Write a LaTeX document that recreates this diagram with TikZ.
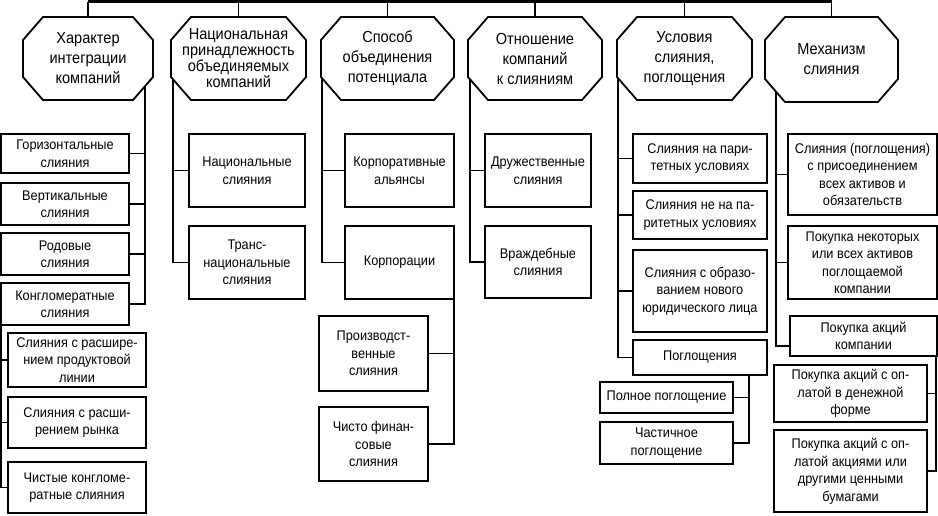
\documentclass[tikz,border=0pt]{standalone}
\usepackage{fontspec}
\setmainfont{Liberation Sans}[FakeStretch=0.91]
\usetikzlibrary{backgrounds}
\tikzset{
  box/.style={draw, line width=1.8pt, fill=white, align=center, inner sep=0pt, font=\fontsize{14}{17.5}\selectfont},
  octt/.style={align=center, inner sep=0pt, font=\fontsize{16}{20}\selectfont},
  octline/.style={draw, line width=1.8pt, fill=white, line join=miter},
  conn/.style={line width=1.5pt},
  bar/.style={line width=3pt},
}
\newcommand\bx[6]{\node[box, minimum width={(#4-#2)*1pt}, minimum height={(#5-#3)*1pt}] (#1) at ({(#2+#4)/2},{(#3+#5)/2}) {#6};}
\newcommand\oct[7][]{%
  \draw[octline] ({#3+20},#4) -- ({#5-20},#4) -- (#5,{#4+23}) -- (#5,{#6-23}) -- ({#5-20},#6) -- ({#3+20},#6) -- (#3,{#6-23}) -- (#3,{#4+23}) -- cycle;
  \node[octt, minimum width={(#5-#3)*1pt}, minimum height={(#6-#4)*1pt}, #1] (#2) at ({(#3+#5)/2},{(#4+#6)/2}) {#7};}
\begin{document}
\begin{tikzpicture}[x=1pt, y=-1pt]
\useasboundingbox (0,0) rectangle (938,515);
% headers
\oct{o1}{23}{17}{153}{100}{Характер\\интеграции\\компаний}
\oct[font=\fontsize{16}{16}\selectfont]{o2}{171}{17}{306}{100}{Национальная\\принадлежность\\объединяемых\\компаний}
\oct{o3}{321}{17}{454}{100}{Способ\\объединения\\потенциала}
\oct{o4}{468}{17}{602}{100}{Отношение\\компаний\\к слияниям}
\oct{o5}{617}{17}{752}{100}{Условия\\слияния,\\поглощения}
\oct{o6}{765}{17}{898}{102}{Механизм\\слияния}
% column 1
\bx{c1a}{1}{134}{129}{173}{Горизонтальные\\слияния}
\bx{c1b}{1}{183}{129}{225}{Вертикальные\\слияния}
\bx{c1c}{1}{233}{129}{275}{Родовые\\слияния}
\bx{c1d}{1}{283}{129}{325}{Конгломератные\\слияния}
\bx{c1e}{8}{333}{146}{387}{Слияния с расшире-\\нием продуктовой\\линии}
\bx{c1f}{8}{397}{146}{448}{Слияния с расши-\\рением рынка}
\bx{c1g}{8}{462}{146}{513}{Чистые конгломе-\\ратные слияния}
% column 2
\bx{c2a}{189}{134}{305}{207}{Национальные\\слияния}
\bx{c2b}{189}{226}{305}{299}{Транс-\\национальные\\слияния}
% column 3
\bx{c3a}{345}{134}{454}{207}{Корпоративные\\альянсы}
\bx{c3b}{345}{226}{454}{299}{Корпорации}
\bx{c3c}{319}{316}{428}{391}{Производст-\\венные\\слияния}
\bx{c3d}{319}{407}{428}{481}{Чисто финан-\\совые\\слияния}
% column 4
\bx{c4a}{485}{134}{591}{207}{Дружественные\\слияния}
\bx{c4b}{485}{226}{591}{298}{Враждебные\\слияния}
% column 5
\bx{c5a}{633}{134}{767}{183}{Слияния на пари-\\тетных условиях}
\bx{c5b}{633}{191}{767}{239}{Слияния не на па-\\ритетных условиях}
\bx{c5c}{633}{250}{767}{332}{Слияния с образо-\\ванием нового\\юридического лица}
\bx{c5d}{633}{340}{767}{375}{Поглощения}
\bx{c5e}{600}{382}{733}{413}{Полное поглощение}
\bx{c5f}{600}{422}{733}{464}{Частичное\\поглощение}
% column 6
\bx{c6a}{788}{134}{937}{215}{Слияния (поглощения)\\с присоединением\\всех активов и\\обязательств}
\bx{c6b}{788}{226}{937}{299}{Покупка некоторых\\или всех активов\\поглощаемой\\компании}
\bx{c6c}{790}{316}{937}{356}{Покупка акций\\компании}
\bx{c6d}{774}{365}{927}{422}{Покупка акций с оп-\\латой в денежной\\форме}
\bx{c6e}{774}{430}{927}{512}{Покупка акций с оп-\\латой акциями или\\другими ценными\\бумагами}
% connectors
\begin{pgfonlayer}{background}
\coordinate (tb) at (0,1.5);
\draw[bar] (o1.north |- tb) -- (o6.north |- tb);
\foreach \o in {o1,o2,o3,o4,o5,o6} \draw[conn] (\o.north) -- (\o.north |- tb);
\foreach \c in {c1a,c1b,c1c,c1d} \draw[conn] ([xshift=57pt]o1.center) |- (\c.east);
\foreach \c in {c1e,c1f,c1g} \draw[conn] ([xshift=1pt]c1d.south west) |- (\c.west);
\foreach \c in {c2a,c2b} \draw[conn] ([xshift=2pt]o2.west) |- (\c.west);
\foreach \c in {c3a,c3b} \draw[conn] ([xshift=1pt]o3.west) |- (\c.west);
\foreach \c in {c3c,c3d} \draw[conn] ([xshift=-1pt]c3b.south east) |- (\c.east);
\foreach \c in {c4a,c4b} \draw[conn] ([xshift=2pt]o4.west) |- (\c.west);
\foreach \c in {c5a,c5b,c5c,c5d} \draw[conn] ([xshift=1pt]o5.west) |- (\c.west);
\foreach \c in {c5e,c5f} \draw[conn] ([xshift=-19pt]c5d.south east) |- (\c.east);
\foreach \c in {c6a,c6b} \draw[conn] ([xshift=11pt]o6.west) |- (\c.west);
\draw[conn] ([xshift=11pt]o6.west) |- ([yshift=-10pt]c6c.west);
\foreach \c in {c6d,c6e} \draw[conn] ([xshift=-2pt]c6c.south east) |- (\c.east);
\end{pgfonlayer}
\end{tikzpicture}
\end{document}
